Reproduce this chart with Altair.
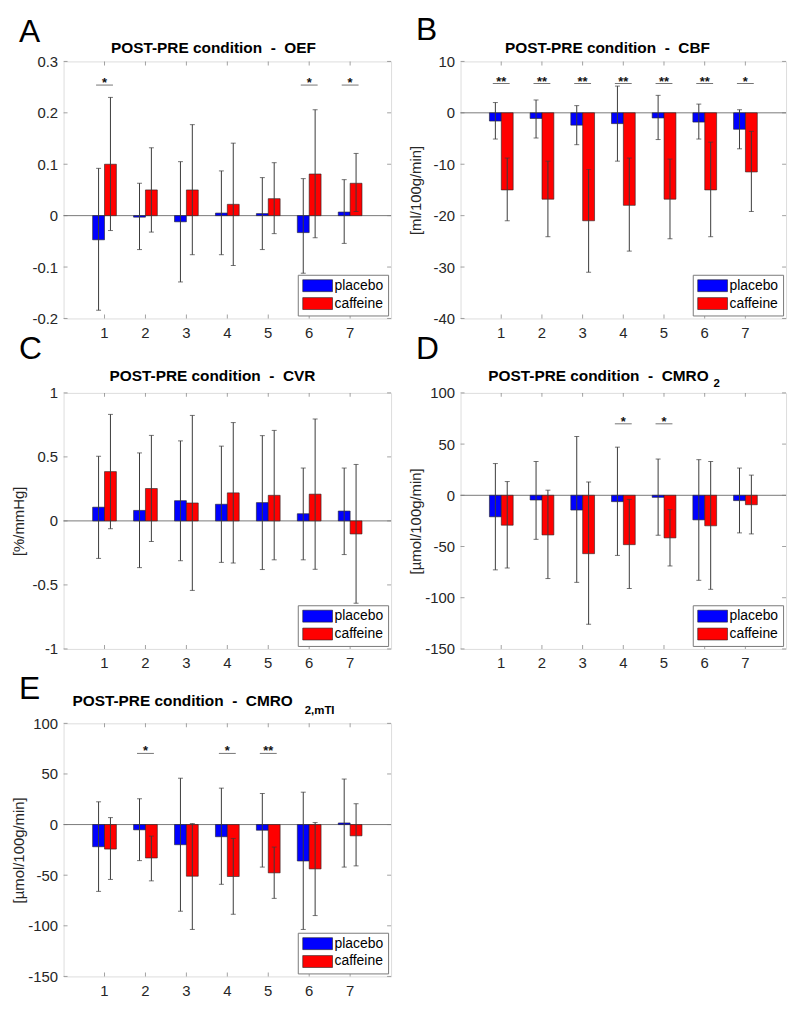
import altair as alt
import pandas as pd

groups = [1, 2, 3, 4, 5, 6, 7]
conds = ["placebo", "caffeine"]

# ---- Panel A : OEF
oef_pla = [-0.047, -0.003, -0.012, 0.005, 0.004, -0.033, 0.007]
oef_pla_lo = [-0.184, -0.066, -0.129, -0.076, -0.066, -0.112, -0.054]
oef_pla_hi = [0.092, 0.063, 0.105, 0.087, 0.074, 0.072, 0.070]
oef_caf = [0.100, 0.050, 0.050, 0.022, 0.033, 0.081, 0.063]
oef_caf_lo = [-0.029, -0.032, -0.076, -0.097, -0.035, -0.043, 0.008]
oef_caf_hi = [0.230, 0.132, 0.177, 0.141, 0.103, 0.206, 0.121]
oef_sig_g = [1, 6, 7]
oef_sig_t = ["*", "*", "*"]
oef_ticks = [-0.2, -0.1, 0, 0.1, 0.2, 0.3]

# ---- Panel B : CBF
cbf_pla = [-1.6, -1.1, -2.4, -2.1, -1.0, -1.8, -3.2]
cbf_pla_lo = [-5.1, -4.9, -6.2, -9.4, -5.2, -5.1, -7.0]
cbf_pla_hi = [2.0, 2.5, 1.4, 5.2, 3.4, 1.7, 0.6]
cbf_caf = [-15.0, -16.8, -21.0, -18.0, -16.8, -15.0, -11.5]
cbf_caf_lo = [-21.0, -24.1, -31.0, -26.9, -24.5, -24.1, -19.2]
cbf_caf_hi = [-8.8, -9.4, -11.0, -8.8, -9.0, -5.7, -3.6]
cbf_sig_g = [1, 2, 3, 4, 5, 6, 7]
cbf_sig_t = ["**", "**", "**", "**", "**", "**", "*"]
cbf_ticks = [-40, -30, -20, -10, 0, 10]

# ---- Panel C : CVR
cvr_pla = [0.107, 0.082, 0.158, 0.130, 0.143, 0.056, 0.077]
cvr_pla_lo = [-0.293, -0.365, -0.311, -0.324, -0.380, -0.304, -0.263]
cvr_pla_hi = [0.505, 0.531, 0.625, 0.584, 0.666, 0.413, 0.413]
cvr_caf = [0.385, 0.253, 0.140, 0.219, 0.200, 0.209, -0.102]
cvr_caf_lo = [-0.061, -0.161, -0.543, -0.329, -0.304, -0.378, -0.643]
cvr_caf_hi = [0.832, 0.668, 0.824, 0.768, 0.707, 0.796, 0.441]
cvr_sig_g = []
cvr_sig_t = []
cvr_ticks = [-1, -0.5, 0, 0.5, 1]

# ---- Panel D : CMRO2
cmro_pla = [-21.0, -4.6, -14.4, -6.2, -2.0, -24.0, -5.2]
cmro_pla_lo = [-72.8, -43.0, -85.0, -58.7, -39.0, -83.0, -36.7]
cmro_pla_hi = [31.0, 33.0, 57.4, 47.0, 35.4, 34.8, 26.6]
cmro_caf = [-29.2, -38.7, -57.0, -48.2, -41.6, -29.8, -9.2]
cmro_caf_lo = [-71.0, -81.3, -126.0, -91.0, -69.0, -91.8, -37.7]
cmro_caf_hi = [13.4, 5.0, 13.0, -4.0, -14.0, 33.0, 19.7]
cmro_sig_g = [4, 5]
cmro_sig_t = ["*", "*"]
cmro_ticks = [-150, -100, -50, 0, 50, 100]

# ---- Panel E : CMRO2,mTI
mti_pla = [-21.9, -5.2, -19.9, -12.0, -5.6, -36.0, 1.6]
mti_pla_lo = [-66.0, -35.6, -85.6, -59.0, -42.0, -103.6, -42.0]
mti_pla_hi = [22.5, 25.5, 45.8, 36.0, 30.7, 32.0, 45.0]
mti_caf = [-24.2, -33.0, -51.0, -51.3, -47.7, -43.8, -11.1]
mti_caf_lo = [-54.2, -55.6, -103.6, -88.6, -72.9, -89.9, -40.8]
mti_caf_hi = [6.9, -11.4, 1.0, -13.7, -22.2, 2.0, 20.6]
mti_sig_g = [2, 4, 5]
mti_sig_t = ["*", "*", "**"]
mti_ticks = [-150, -100, -50, 0, 50, 100]

FONT = "Liberation Sans"
TXT = "#262626"
FRAME = "#7a7a7a"
ERR = "#3a3a3a"
SP = "\u00a0\u00a0-\u00a0\u00a0"


def make_df(pm, plo, phi, cm, clo, chi):
    rows = []
    for i, g in enumerate(groups):
        rows.append(dict(g=g, cond="placebo", val=pm[i], lo=plo[i], hi=phi[i]))
        rows.append(dict(g=g, cond="caffeine", val=cm[i], lo=clo[i], hi=chi[i]))
    return pd.DataFrame(rows)


def txt(text, x, y, size, weight="normal", align="left", color="#000"):
    return alt.Chart(pd.DataFrame({"t": [text]})).mark_text(
        font=FONT, fontSize=size, fontWeight=weight, align=align,
        baseline="alphabetic", color=color
    ).encode(x=alt.value(x), y=alt.value(y), text="t:N")


def panel(letter, letter_y, title, title_x, title_y, title_align, sub, sub_x, sub_y,
          ytitle, domain, ticks, df, sig_g, sig_t, sig_lvl, W, H):
    yscale = alt.Scale(domain=domain, nice=False, zero=False)
    ax_kw = dict(values=ticks, grid=False, ticks=False, domain=False,
                 labelExpr="toString(datum.value)", labelFont=FONT, labelFontSize=15,
                 labelColor=TXT, labelPadding=6)
    if ytitle:
        yaxis = alt.Axis(title=ytitle, titleFont=FONT, titleFontSize=15,
                         titleFontWeight="normal", titleColor=TXT, titleX=-45,
                         titleBaseline="middle", **ax_kw)
    else:
        yaxis = alt.Axis(title=None, **ax_kw)
    xscale = alt.Scale(paddingInner=0.42, paddingOuter=0.71)
    xaxis = alt.Axis(labelAngle=0, ticks=False, domain=False, title=None,
                     labelFont=FONT, labelFontSize=15, labelColor=TXT, labelPadding=7)
    X = alt.X("g:O", scale=xscale, axis=xaxis)
    XO = alt.XOffset("cond:N", sort=conds)

    def Y(field):
        return alt.Y(field, scale=yscale, axis=yaxis)

    base = alt.Chart(df)
    zero = alt.Chart(pd.DataFrame({"z": [0]})).mark_rule(
        color=FRAME, strokeWidth=1).encode(y=Y("z:Q"))
    bars = base.mark_bar(stroke="#222", strokeWidth=0.6).encode(
        x=X, xOffset=XO, y=Y("val:Q"), y2=alt.datum(0),
        color=alt.Color("cond:N", sort=conds,
                        scale=alt.Scale(domain=conds, range=["#0000ff", "#ff0000"]),
                        legend=alt.Legend(
                            title=None, orient="bottom-right", offset=3, padding=4,
                            fillColor="white", strokeColor=FRAME,
                            symbolType="M-2.5,-1L2.5,-1L2.5,1L-2.5,1Z", symbolSize=144,
                            symbolStrokeColor="#222", symbolStrokeWidth=0.6,
                            symbolOpacity=1, symbolOffset=9, labelOffset=10,
                            labelFont=FONT, labelFontSize=14, labelColor="#000",
                            rowPadding=2)))
    err = base.mark_rule(color=ERR, strokeWidth=1).encode(
        x=X, xOffset=XO, y=Y("lo:Q"), y2="hi:Q")
    cap_lo = base.mark_tick(orient="horizontal", size=5, thickness=1, color=ERR).encode(
        x=X, xOffset=XO, y=Y("lo:Q"))
    cap_hi = base.mark_tick(orient="horizontal", size=5, thickness=1, color=ERR).encode(
        x=X, xOffset=XO, y=Y("hi:Q"))

    gdf = pd.DataFrame({"g": groups})
    vdf = pd.DataFrame({"v": ticks})
    tk_top = alt.Chart(gdf).mark_tick(orient="vertical", size=4, thickness=1, color=FRAME).encode(
        x=X, y=alt.value(2))
    tk_bot = alt.Chart(gdf).mark_tick(orient="vertical", size=4, thickness=1, color=FRAME).encode(
        x=X, y=alt.value(H - 2))
    tk_l = alt.Chart(vdf).mark_tick(orient="horizontal", size=4, thickness=1, color=FRAME).encode(
        y=Y("v:Q"), x=alt.value(2))
    tk_r = alt.Chart(vdf).mark_tick(orient="horizontal", size=4, thickness=1, color=FRAME).encode(
        y=Y("v:Q"), x=alt.value(W - 2))

    layers = [zero, bars, err, cap_lo, cap_hi, tk_top, tk_bot, tk_l, tk_r]

    if sig_g:
        sdf = pd.DataFrame({"g": sig_g, "t": sig_t, "lvl": [sig_lvl] * len(sig_g)})
        sig_line = alt.Chart(sdf).mark_tick(orient="horizontal", size=17, thickness=1,
                                            color=ERR).encode(x=X, y=Y("lvl:Q"))
        sig_txt = alt.Chart(sdf).mark_text(font=FONT, fontSize=13, fontWeight="bold",
                                           baseline="alphabetic", dy=2, color="#111").encode(
            x=X, y=Y("lvl:Q"), text="t:N")
        layers += [sig_line, sig_txt]

    layers.append(txt(letter, -45, letter_y, 32))
    layers.append(txt(title, title_x, title_y, 15.5, "bold", title_align))
    if sub:
        layers.append(txt(sub, sub_x, sub_y, 11.5, "bold", "left"))

    return alt.layer(*layers).properties(width=W, height=H)


pA = panel("A", -20, "POST-PRE condition" + SP + "OEF", 151, -8, "center", None, 0, 0,
           None, [-0.2, 0.3], oef_ticks,
           make_df(oef_pla, oef_pla_lo, oef_pla_hi, oef_caf, oef_caf_lo, oef_caf_hi),
           oef_sig_g, oef_sig_t, 0.254, 330, 259)
pB = panel("B", -22, "POST-PRE condition" + SP + "CBF", 148, -8, "center", None, 0, 0,
           "[ml/100g/min]", [-40, 10], cbf_ticks,
           make_df(cbf_pla, cbf_pla_lo, cbf_pla_hi, cbf_caf, cbf_caf_lo, cbf_caf_hi),
           cbf_sig_g, cbf_sig_t, 5.7, 328, 259)
pC = panel("C", -34, "POST-PRE condition" + SP + "CVR", 150, -12, "center", None, 0, 0,
           "[%/mmHg]", [-1, 1], cvr_ticks,
           make_df(cvr_pla, cvr_pla_lo, cvr_pla_hi, cvr_caf, cvr_caf_lo, cvr_caf_hi),
           cvr_sig_g, cvr_sig_t, 0, 330, 258)
pD = panel("D", -34, "POST-PRE condition" + SP + "CMRO", 250, -12, "right", "2", 255, -6,
           "[µmol/100g/min]", [-150, 100], cmro_ticks,
           make_df(cmro_pla, cmro_pla_lo, cmro_pla_hi, cmro_caf, cmro_caf_lo, cmro_caf_hi),
           cmro_sig_g, cmro_sig_t, 69.8, 328, 258)
pE = panel("E", -25, "POST-PRE condition" + SP + "CMRO", 231, -17, "right", "2,mTI", 243, -9,
           "[µmol/100g/min]", [-150, 100], mti_ticks,
           make_df(mti_pla, mti_pla_lo, mti_pla_hi, mti_caf, mti_caf_lo, mti_caf_hi),
           mti_sig_g, mti_sig_t, 70.3, 330, 255)

chart = alt.concat(pA, pB, pC, pD, pE, columns=2).properties(
    bounds="flush",
    align="each",
    spacing=alt.RowColnumber(row=75, column=70),
    padding={"left": 3, "top": 1, "right": 5, "bottom": 5},
).resolve_scale(
    x="independent", y="independent", color="independent"
).resolve_legend(color="independent").configure_view(
    stroke=FRAME, strokeWidth=1
).configure(background="white")

chart.save("out.html", embed_options={"renderer": "svg", "actions": False})
